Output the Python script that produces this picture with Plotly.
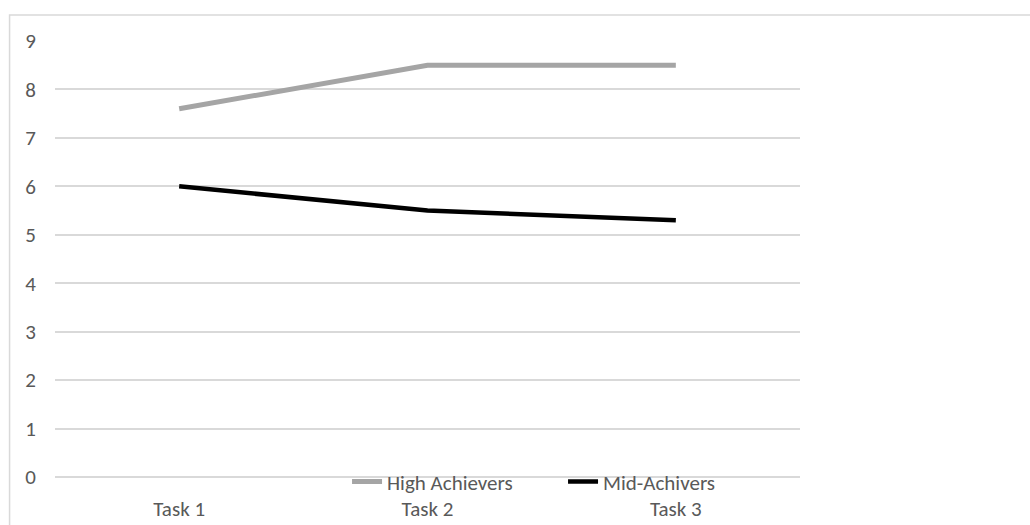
import plotly.graph_objects as go

categories = ["Task 1", "Task 2", "Task 3"]
high_achievers = [7.6, 8.5, 8.5]
mid_achivers = [6.0, 5.5, 5.3]
y_ticks = list(range(0, 10))

FONT = "Carlito, Lato, sans-serif"
TXT = "#595959"
FS = 21

fig = go.Figure()
fig.add_trace(go.Scatter(x=categories, y=high_achievers, mode="lines", name="High Achievers",
                         line=dict(color="#a5a5a5", width=5)))
fig.add_trace(go.Scatter(x=categories, y=mid_achivers, mode="lines", name="Mid-Achivers",
                         line=dict(color="#000000", width=4.5)))

fig.update_layout(
    width=1030, height=525,
    margin=dict(l=55, r=230, t=41, b=48, autoexpand=False),
    paper_bgcolor="white", plot_bgcolor="white",
    font=dict(family=FONT, size=FS, color=TXT),
    showlegend=True,
    legend=dict(orientation="h", x=0.392, y=0.036, xanchor="left", yanchor="top",
                font=dict(family=FONT, size=FS, color=TXT), itemwidth=30,
                entrywidth=171, entrywidthmode="pixels",
                bgcolor="rgba(0,0,0,0)", tracegroupgap=0),
    xaxis=dict(type="category", range=[-0.5, 2.5], showgrid=False, showline=False,
               zeroline=False, ticks="", ticklabelstandoff=17,
               tickfont=dict(family=FONT, size=FS, color=TXT)),
    yaxis=dict(range=[0, 9], tickvals=y_ticks, showgrid=True, gridcolor="#d9d9d9", gridwidth=1.5,
               zeroline=True, zerolinecolor="#d9d9d9", zerolinewidth=1.5,
               showline=False, ticks="", ticklabelstandoff=18,
               tickfont=dict(family=FONT, size=FS, color=TXT)),
    shapes=[dict(type="rect", xref="paper", yref="paper", x0=-0.061, x1=1.4, y0=-0.3, y1=1.0596,
                 line=dict(color="#d9d9d9", width=1.5), fillcolor="rgba(0,0,0,0)", layer="below")],
)

fig.write_html("out.html")
